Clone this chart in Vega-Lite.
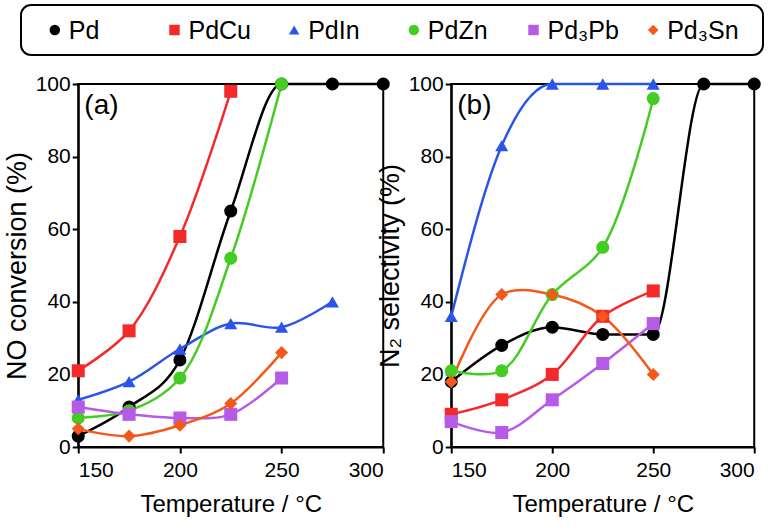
{
  "$schema": "https://vega.github.io/schema/vega-lite/v6.json",
  "background": "white",
  "padding": {"left": 2, "top": 4, "right": 0, "bottom": 5},
  "config": {
    "font": "Liberation Sans",
    "view": {"stroke": "black", "strokeWidth": 2},
    "axis": {
      "domainColor": "black", "domainWidth": 2, "tickColor": "black", "tickWidth": 2, "tickSize": 6,
      "labelFontSize": 21, "labelColor": "black", "titleFontSize": 27, "titleFontWeight": "normal",
      "titleColor": "black", "grid": false, "labelFont": "Liberation Sans", "titleFont": "Liberation Sans"
    },
    "axisX": {"titleFontSize": 24}
  },
  "datasets": {
    "leg": [{"cat": "Pd"}, {"cat": "PdCu"}, {"cat": "PdIn"}, {"cat": "PdZn"}, {"cat": "Pd₃Pb"}, {"cat": "Pd₃Sn"}],
    "d": [
      {"panel": "a", "cat": "Pd", "T": 150, "v": 3},
      {"panel": "a", "cat": "Pd", "T": 175, "v": 11},
      {"panel": "a", "cat": "Pd", "T": 200, "v": 24},
      {"panel": "a", "cat": "Pd", "T": 225, "v": 65},
      {"panel": "a", "cat": "Pd", "T": 250, "v": 100},
      {"panel": "a", "cat": "Pd", "T": 275, "v": 100},
      {"panel": "a", "cat": "Pd", "T": 300, "v": 100},
      {"panel": "a", "cat": "PdCu", "T": 150, "v": 21},
      {"panel": "a", "cat": "PdCu", "T": 175, "v": 32},
      {"panel": "a", "cat": "PdCu", "T": 200, "v": 58},
      {"panel": "a", "cat": "PdCu", "T": 225, "v": 98},
      {"panel": "a", "cat": "PdIn", "T": 150, "v": 13},
      {"panel": "a", "cat": "PdIn", "T": 175, "v": 18},
      {"panel": "a", "cat": "PdIn", "T": 200, "v": 27},
      {"panel": "a", "cat": "PdIn", "T": 225, "v": 34},
      {"panel": "a", "cat": "PdIn", "T": 250, "v": 33},
      {"panel": "a", "cat": "PdIn", "T": 275, "v": 40},
      {"panel": "a", "cat": "PdZn", "T": 150, "v": 8},
      {"panel": "a", "cat": "PdZn", "T": 175, "v": 10},
      {"panel": "a", "cat": "PdZn", "T": 200, "v": 19},
      {"panel": "a", "cat": "PdZn", "T": 225, "v": 52},
      {"panel": "a", "cat": "PdZn", "T": 250, "v": 100},
      {"panel": "a", "cat": "Pd₃Pb", "T": 150, "v": 11},
      {"panel": "a", "cat": "Pd₃Pb", "T": 175, "v": 9},
      {"panel": "a", "cat": "Pd₃Pb", "T": 200, "v": 8},
      {"panel": "a", "cat": "Pd₃Pb", "T": 225, "v": 9},
      {"panel": "a", "cat": "Pd₃Pb", "T": 250, "v": 19},
      {"panel": "a", "cat": "Pd₃Sn", "T": 150, "v": 5},
      {"panel": "a", "cat": "Pd₃Sn", "T": 175, "v": 3},
      {"panel": "a", "cat": "Pd₃Sn", "T": 200, "v": 6},
      {"panel": "a", "cat": "Pd₃Sn", "T": 225, "v": 12},
      {"panel": "a", "cat": "Pd₃Sn", "T": 250, "v": 26},
      {"panel": "b", "cat": "Pd", "T": 150, "v": 18},
      {"panel": "b", "cat": "Pd", "T": 175, "v": 28},
      {"panel": "b", "cat": "Pd", "T": 200, "v": 33},
      {"panel": "b", "cat": "Pd", "T": 225, "v": 31},
      {"panel": "b", "cat": "Pd", "T": 250, "v": 31},
      {"panel": "b", "cat": "Pd", "T": 275, "v": 100},
      {"panel": "b", "cat": "Pd", "T": 300, "v": 100},
      {"panel": "b", "cat": "PdCu", "T": 150, "v": 9},
      {"panel": "b", "cat": "PdCu", "T": 175, "v": 13},
      {"panel": "b", "cat": "PdCu", "T": 200, "v": 20},
      {"panel": "b", "cat": "PdCu", "T": 225, "v": 36},
      {"panel": "b", "cat": "PdCu", "T": 250, "v": 43},
      {"panel": "b", "cat": "PdIn", "T": 150, "v": 36},
      {"panel": "b", "cat": "PdIn", "T": 175, "v": 83},
      {"panel": "b", "cat": "PdIn", "T": 200, "v": 100},
      {"panel": "b", "cat": "PdIn", "T": 225, "v": 100},
      {"panel": "b", "cat": "PdIn", "T": 250, "v": 100},
      {"panel": "b", "cat": "PdZn", "T": 150, "v": 21},
      {"panel": "b", "cat": "PdZn", "T": 175, "v": 21},
      {"panel": "b", "cat": "PdZn", "T": 200, "v": 42},
      {"panel": "b", "cat": "PdZn", "T": 225, "v": 55},
      {"panel": "b", "cat": "PdZn", "T": 250, "v": 96},
      {"panel": "b", "cat": "Pd₃Pb", "T": 150, "v": 7},
      {"panel": "b", "cat": "Pd₃Pb", "T": 175, "v": 4},
      {"panel": "b", "cat": "Pd₃Pb", "T": 200, "v": 13},
      {"panel": "b", "cat": "Pd₃Pb", "T": 225, "v": 23},
      {"panel": "b", "cat": "Pd₃Pb", "T": 250, "v": 34},
      {"panel": "b", "cat": "Pd₃Sn", "T": 150, "v": 18},
      {"panel": "b", "cat": "Pd₃Sn", "T": 175, "v": 42},
      {"panel": "b", "cat": "Pd₃Sn", "T": 200, "v": 42},
      {"panel": "b", "cat": "Pd₃Sn", "T": 225, "v": 36},
      {"panel": "b", "cat": "Pd₃Sn", "T": 250, "v": 20}
    ],
    "labels": [
      {"panel": "a", "T": 153, "v": 94, "label": "(a)"},
      {"panel": "b", "T": 153, "v": 94, "label": "(b)"}
    ]
  },
  "vconcat": [
    {
      "width": 742, "height": 50,
      "view": {"stroke": "black", "strokeWidth": 2, "cornerRadius": 10},
      "data": {"name": "leg"},
      "encoding": {
        "x": {"field": "cat", "type": "nominal", "sort": null, "axis": null,
          "scale": {"type": "point", "padding": 0.6, "domain": ["Pd", "PdCu", "PdIn", "PdZn", "Pd₃Pb", "Pd₃Sn"]}},
        "y": {"datum": 0, "type": "quantitative", "scale": {"domain": [-1, 1]},
          "axis": {"orient": "right", "labels": false, "ticks": false, "domain": false, "grid": false, "title": null, "minExtent": 55, "maxExtent": 55}}
      },
      "layer": [
        {
          "mark": {"type": "point", "filled": true, "opacity": 1, "size": 110, "xOffset": -38},
          "encoding": {
            "color": {"field": "cat", "type": "nominal", "legend": null,
              "scale": {"domain": ["Pd", "PdCu", "PdIn", "PdZn", "Pd₃Pb", "Pd₃Sn"], "range": ["#000000", "#f42a2a", "#2a55e8", "#44cc22", "#b65be8", "#f4581c"]}},
            "shape": {"field": "cat", "type": "nominal", "legend": null,
              "scale": {"domain": ["Pd", "PdCu", "PdIn", "PdZn", "Pd₃Pb", "Pd₃Sn"], "range": ["circle", "square", "triangle-up", "circle", "square", "diamond"]}}
          }
        },
        {
          "mark": {"type": "text", "align": "left", "baseline": "middle", "fontSize": 25, "dx": -24, "dy": 1, "font": "Liberation Sans", "color": "black"},
          "encoding": {
            "text": {"field": "cat"}
          }
        }
      ]
    },
    {
      "bounds": "flush",
      "spacing": 68,
      "hconcat": [
        {
          "width": 305, "height": 363,
          "layer": [
            {
              "data": {"name": "d"},
              "transform": [{"filter": "datum.panel === 'a'"}, {"filter": "datum.cat === 'Pd'"}],
              "mark": {"type": "line", "interpolate": "monotone", "strokeWidth": 2.5},
              "encoding": {
                "x": {"field": "T", "type": "quantitative", "scale": {"domain": [150, 300], "nice": false, "zero": false}, "axis": {"values": [150, 200, 250, 300], "title": "Temperature / °C", "titlePadding": 12, "labelPadding": 6}},
                "y": {"field": "v", "type": "quantitative", "scale": {"domain": [0, 100], "nice": false}, "axis": {"values": [0, 20, 40, 60, 80, 100], "title": "NO conversion (%)", "titlePadding": 4, "labelPadding": 2}},
                "color": {"field": "cat", "type": "nominal", "legend": null},
                "detail": {"field": "cat"}
              }
            },
            {
              "data": {"name": "d"},
              "transform": [{"filter": "datum.panel === 'a'"}, {"filter": "datum.cat !== 'Pd'"}],
              "mark": {"type": "line", "interpolate": "catmull-rom", "strokeWidth": 2.5},
              "encoding": {
                "x": {"field": "T", "type": "quantitative"},
                "y": {"field": "v", "type": "quantitative"},
                "color": {"field": "cat", "type": "nominal", "legend": null},
                "detail": {"field": "cat"}
              }
            },
            {
              "data": {"name": "d"},
              "transform": [{"filter": "datum.panel === 'a'"}],
              "mark": {"type": "point", "filled": true, "opacity": 1, "size": 170},
              "encoding": {
                "x": {"field": "T", "type": "quantitative"},
                "y": {"field": "v", "type": "quantitative"},
                "color": {"field": "cat", "type": "nominal", "legend": null},
                "shape": {"field": "cat", "type": "nominal", "legend": null}
              }
            },
            {
              "data": {"name": "labels"},
              "transform": [{"filter": "datum.panel === 'a'"}],
              "mark": {"type": "text", "align": "left", "baseline": "middle", "fontSize": 28, "font": "Liberation Sans", "color": "black"},
              "encoding": {
                "x": {"field": "T", "type": "quantitative"},
                "y": {"field": "v", "type": "quantitative"},
                "text": {"field": "label"}
              }
            }
          ]
        },
        {
          "width": 303, "height": 363,
          "layer": [
            {
              "data": {"name": "d"},
              "transform": [{"filter": "datum.panel === 'b'"}, {"filter": "datum.cat === 'Pd' || datum.cat === 'PdIn'"}],
              "mark": {"type": "line", "interpolate": "monotone", "strokeWidth": 2.5},
              "encoding": {
                "x": {"field": "T", "type": "quantitative", "scale": {"domain": [150, 300], "nice": false, "zero": false}, "axis": {"values": [150, 200, 250, 300], "title": "Temperature / °C", "titlePadding": 12, "labelPadding": 6}},
                "y": {"field": "v", "type": "quantitative", "scale": {"domain": [0, 100], "nice": false}, "axis": {"values": [0, 20, 40, 60, 80, 100], "title": "N₂ selectivity (%)", "titlePadding": 4, "labelPadding": 2}},
                "color": {"field": "cat", "type": "nominal", "legend": null},
                "detail": {"field": "cat"}
              }
            },
            {
              "data": {"name": "d"},
              "transform": [{"filter": "datum.panel === 'b'"}, {"filter": "datum.cat !== 'Pd' && datum.cat !== 'PdIn'"}],
              "mark": {"type": "line", "interpolate": "catmull-rom", "strokeWidth": 2.5},
              "encoding": {
                "x": {"field": "T", "type": "quantitative"},
                "y": {"field": "v", "type": "quantitative"},
                "color": {"field": "cat", "type": "nominal", "legend": null},
                "detail": {"field": "cat"}
              }
            },
            {
              "data": {"name": "d"},
              "transform": [{"filter": "datum.panel === 'b'"}],
              "mark": {"type": "point", "filled": true, "opacity": 1, "size": 170},
              "encoding": {
                "x": {"field": "T", "type": "quantitative"},
                "y": {"field": "v", "type": "quantitative"},
                "color": {"field": "cat", "type": "nominal", "legend": null},
                "shape": {"field": "cat", "type": "nominal", "legend": null}
              }
            },
            {
              "data": {"name": "labels"},
              "transform": [{"filter": "datum.panel === 'b'"}],
              "mark": {"type": "text", "align": "left", "baseline": "middle", "fontSize": 28, "font": "Liberation Sans", "color": "black"},
              "encoding": {
                "x": {"field": "T", "type": "quantitative"},
                "y": {"field": "v", "type": "quantitative"},
                "text": {"field": "label"}
              }
            }
          ]
        }
      ]
    }
  ],
  "center": true,
  "spacing": 16,
  "resolve": {"scale": {"color": "shared", "shape": "shared"}}
}
